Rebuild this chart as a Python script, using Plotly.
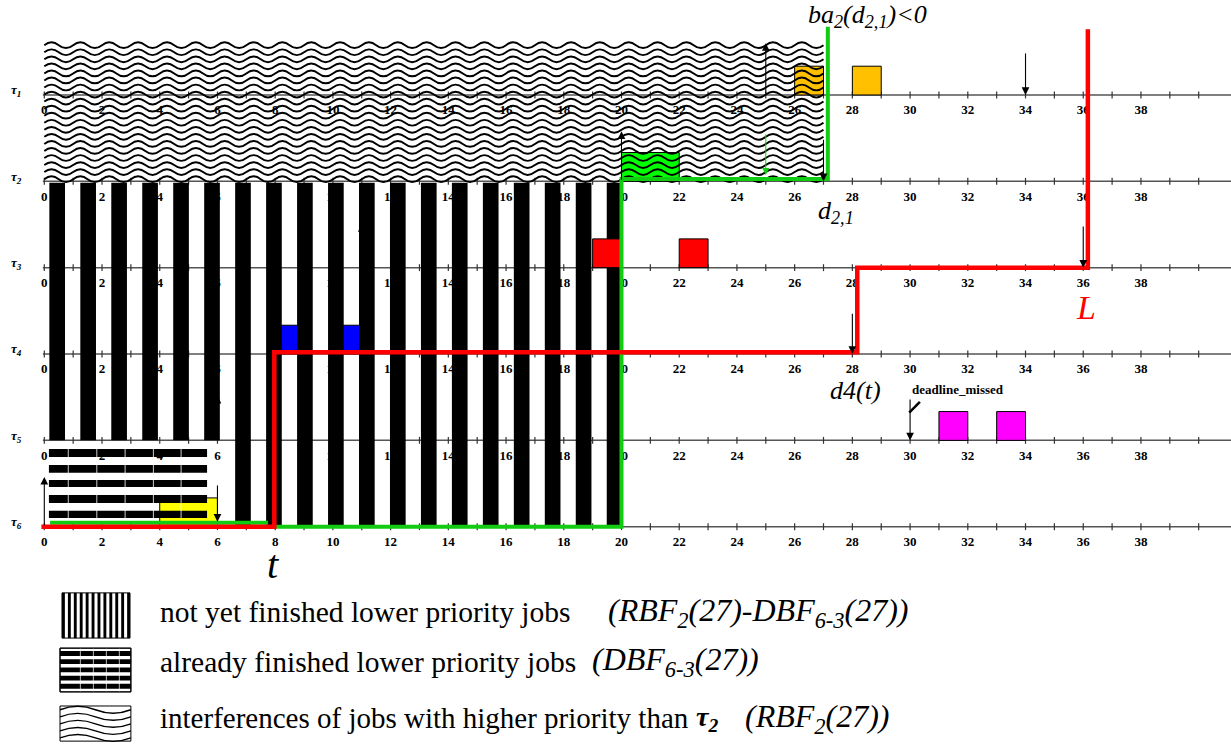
import plotly.graph_objects as go

# ---------------- data ----------------
task_names = ["1", "2", "3", "4", "5", "6"]          # tau index per timeline row
row_base = [15, 12, 9, 6, 3, 0]                       # baseline of each row (y units)
tick_values = list(range(0, 40, 2))                   # labelled ticks
tick_labels = [str(v) for v in tick_values]
minor_ticks = list(range(0, 41))

# job boxes
job_row = [0, 0, 1, 3, 3, 5, 2, 2, 4, 4]
job_start = [26, 28, 20, 8, 10, 4, 19, 22, 31, 33]
job_end = [27, 29, 22, 9, 11, 6, 20, 23, 32, 34]
job_color = ["#FFC000", "#FFC000", "#00FF00", "#0000FF", "#0000FF", "#FFFF00",
             "#FF0000", "#FF0000", "#FF00FF", "#FF00FF"]
job_on_top = [False, False, False, False, False, False, True, True, True, True]

# release (up) arrows: row, time, length ; hidden ones lie under the stripes
rel_row = [0, 1, 5]
rel_x = [25, 20, 0]
rel_len = [1.8, 1.74, 1.73]
hid_row = [2, 4]
hid_x = [11, 6]
hid_len = [1.55, 1.58]
# deadline (down) arrows: row, time, top offset, bottom offset
dl_row = [0, 1, 2, 3, 4, 5]
dl_x = [34, 27, 36, 28, 30, 6]
dl_top = [1.49, 1.5, 1.48, 1.45, 1.47, 1.48]
dl_bot = [0, 0, 0, 0, 0, 0.17]

# step curves
red_x = [-0.1, 7.97, 7.97, 28.17, 28.17, 36.16, 36.16]
red_y = [0, 0, 6.06, 6.06, 9.0, 9.0, 17.28]
green1_x = [0.2, 7.75]
green1_y = [0.14, 0.14]
green2_x = [7.95, 20.0, 20.0, 27.15, 27.15]
green2_y = [0.0, 0.0, 12.08, 12.08, 17.37]

# hatching textures (region extents)
wave_x = [0, 27.0]
wave_top = 16.73
wave_gap = 0.245
wave_count = 20
wave_len = 1.0
wave_amp = 0.1
stripe_first = 0.175
stripe_period = 1.073
stripe_width = 0.543
stripe_count = 19
stripe_end = 20.0
stripe_top = 11.95
bar_tops = [2.70, 2.14, 1.62, 1.10, 0.55]
bar_bots = [2.42, 1.87, 1.38, 0.82, 0.30]
bar_x = [0.16, 5.64]

FONT = "Liberation Serif"

def path(xs, ys):
    return "M " + " L ".join(f"{x},{y}" for x, y in zip(xs, ys))

def wave_path(x0, x1, y, lam, amp):
    h = lam / 2
    s = f"M {x0},{y} Q {x0 + h/2},{y + 2*amp} {x0 + h},{y}"
    x = x0 + h
    while x + h <= x1 + 1e-9:
        x += h
        s += f" T {x},{y}"
    return s

shapes = []
def rect(x0, x1, y0, y1, fill, lw=0, lc="black"):
    shapes.append(dict(type="rect", xref="x", yref="y", x0=x0, x1=x1, y0=y0, y1=y1,
                       fillcolor=fill, line=dict(width=lw, color=lc)))
def pline(xs, ys, color, w):
    shapes.append(dict(type="path", xref="x", yref="y", path=path(xs, ys),
                       line=dict(color=color, width=w)))

# boxes below the textures
for r, a, b, c, top in zip(job_row, job_start, job_end, job_color, job_on_top):
    if not top:
        rect(a, b, row_base[r], row_base[r] + 1, c, 1)

# hidden release arrows (under stripes)
for r, x, L in zip(hid_row, hid_x, hid_len):
    y0 = row_base[r]
    pline([x, x], [y0, y0 + L], "black", 1)
    shapes.append(dict(type="path", xref="x", yref="y",
                       path=f"M {x-0.13},{y0+L-0.3} L {x+0.13},{y0+L-0.3} L {x},{y0+L} Z",
                       fillcolor="black", line=dict(width=0)))

# wavy texture
for i in range(wave_count):
    y = wave_top - i * wave_gap
    shapes.append(dict(type="path", xref="x", yref="y",
                       path=wave_path(wave_x[0], wave_x[1], y, wave_len, wave_amp),
                       line=dict(color="black", width=1.9)))

# vertical stripes
for k in range(stripe_count):
    a = stripe_first + k * stripe_period
    b = min(a + stripe_width, stripe_end)
    bottom = 3 if a < 6 else 0
    rect(a, b, bottom, stripe_top, "black")

# horizontal bars (already finished)
for t, bt in zip(bar_tops, bar_bots):
    rect(bar_x[0], bar_x[1], bt, t, "black")
for gx in [0.83, 1.82, 2.8, 3.78, 4.74]:
    pline([gx, gx], [0.3, 2.7], "white", 0.8)

# boxes above textures
for r, a, b, c, top in zip(job_row, job_start, job_end, job_color, job_on_top):
    if top:
        rect(a, b, row_base[r], row_base[r] + 1, c, 1)

# step curves
pline(green1_x, green1_y, "#11CC11", 4)
pline(green2_x, green2_y, "#11CC11", 4)
pline(red_x, red_y, "#FF0000", 4.5)

# deadline-missed slash
pline([29.97, 30.34], [3.96, 4.34], "black", 2.5)

# legend icons
ix0, ix1 = 0.613, 2.97
iy0, iy1 = -3.87, -2.30
rect(ix0, ix1, iy0, iy1, "white", 1)
n = 12
w = 0.1
for i in range(n):
    a = ix0 + i * (ix1 - ix0 - w) / (n - 1)
    rect(a, a + w, iy0, iy1, "black")
jx0, jx1 = 0.544, 3.0
jy0, jy1 = -5.74, -4.22
rect(jx0, jx1, jy0, jy1, "white", 1)
for i in range(5):
    t = -4.32 - 0.285 * i
    rect(jx0, jx1, t - 0.17, t, "black")
for gx in [1.25, 1.7, 2.15, 2.6]:
    pline([gx, gx], [jy0, jy1], "white", 0.7)
rect(jx0, jx1, jy0, jy1, "rgba(0,0,0,0)", 1)
kx0, kx1 = 0.544, 3.0
ky0, ky1 = -7.45, -6.23
rect(kx0, kx1, ky0, ky1, "white", 1)
for i in range(5):
    y = -6.36 - 0.245 * i
    shapes.append(dict(type="path", xref="x", yref="y",
                       path=wave_path(kx0, kx1, y, (kx1 - kx0), 0.12),
                       line=dict(color="black", width=1.4)))

# ---------------- traces: axes, ticks, tick labels ----------------
fig = go.Figure()
ax_x, ax_y = [], []
tk_x, tk_y = [], []
lb_x, lb_y, lb_t = [], [], []
for yb in row_base:
    ax_x += [-0.05, 41.2, None]
    ax_y += [yb, yb, None]
    for m in minor_ticks:
        tk_x += [m, m, None]
        tk_y += [yb - 0.12, yb + 0.12, None]
    for v, s in zip(tick_values, tick_labels):
        lb_x.append(v)
        lb_y.append(yb - 0.56)
        lb_t.append(f"<b>{s}</b>")
fig.add_trace(go.Scatter(x=ax_x, y=ax_y, mode="lines", line=dict(color="#555555", width=1.5),
                         hoverinfo="skip", showlegend=False))
fig.add_trace(go.Scatter(x=tk_x, y=tk_y, mode="lines", line=dict(color="#333333", width=1.2),
                         hoverinfo="skip", showlegend=False))
fig.add_trace(go.Scatter(x=lb_x, y=lb_y, mode="text", text=lb_t,
                         textfont=dict(family=FONT, size=13, color="black"),
                         hoverinfo="skip", showlegend=False))

# ---------------- annotations ----------------
ann = []
def arrow(x, yhead, ytail, color="black", w=1.1):
    ann.append(dict(x=x, y=yhead, ax=x, ay=ytail, xref="x", yref="y", axref="x", ayref="y",
                    text="", showarrow=True, arrowhead=2, arrowsize=1.4, arrowwidth=w,
                    arrowcolor=color, standoff=0, startstandoff=0))
for r, x, L in zip(rel_row, rel_x, rel_len):
    arrow(x, row_base[r] + L, row_base[r])
for r, x, t, b in zip(dl_row, dl_x, dl_top, dl_bot):
    arrow(x, row_base[r] + b, row_base[r] + t)
arrow(25, 12.22, 13.68, "#11CC11", 1)

def text(x, y, s, size, color="black", xanchor="center"):
    ann.append(dict(x=x, y=y, xref="x", yref="y", text=s, showarrow=False, xanchor=xanchor,
                    yanchor="middle", font=dict(family=FONT, size=size, color=color)))

for name, yb in zip(task_names, row_base):
    text(-0.98, yb + 0.15, f"<b><i>τ</i></b><sub><b><i>{name}</i></b></sub>", 13)

text(28.54, 17.76, "<i>ba<sub>2</sub>(d<sub>2,1</sub>)&lt;0</i>", 26)
text(27.43, 10.92, "<i>d<sub>2,1</sub></i>", 26)
text(36.1, 7.62, "<i>L</i>", 34, "#FF0000")
text(28.12, 4.72, "<i>d4(t)</i>", 26)
text(7.93, -1.3, "<i>t</i>", 40)
text(31.66, 4.75, "<b>deadline_missed</b>", 13)

text(3.94, -2.97, "not yet finished lower priority jobs", 29.5, xanchor="left")
text(19.45, -2.97, "<i>(RBF<sub>2</sub>(27)-DBF<sub>6-3</sub>(27))</i>", 32, xanchor="left")
text(3.94, -4.70, "already finished lower priority jobs", 29.5, xanchor="left")
text(18.9, -4.70, "<i>(DBF<sub>6-3</sub>(27))</i>", 32, xanchor="left")
text(3.94, -6.65, "interferences of jobs with higher priority than", 29, xanchor="left")
text(22.5, -6.65, "<b><i>τ</i></b><sub><b><i>2</i></b></sub>", 28, xanchor="left")
text(24.2, -6.65, "<i>(RBF<sub>2</sub>(27))</i>", 32, xanchor="left")

fig.update_layout(
    width=1231, height=746,
    margin=dict(l=0, r=0, t=0, b=0),
    paper_bgcolor="white", plot_bgcolor="white",
    xaxis=dict(range=[-1.535, 41.12], visible=False, fixedrange=True),
    yaxis=dict(range=[-7.62, 18.30], visible=False, fixedrange=True),
    shapes=shapes, annotations=ann, showlegend=False,
)
fig.write_html("out.html", config={"displayModeBar": False},
               post_script="document.body.style.margin='0';document.body.style.overflow='hidden';")
